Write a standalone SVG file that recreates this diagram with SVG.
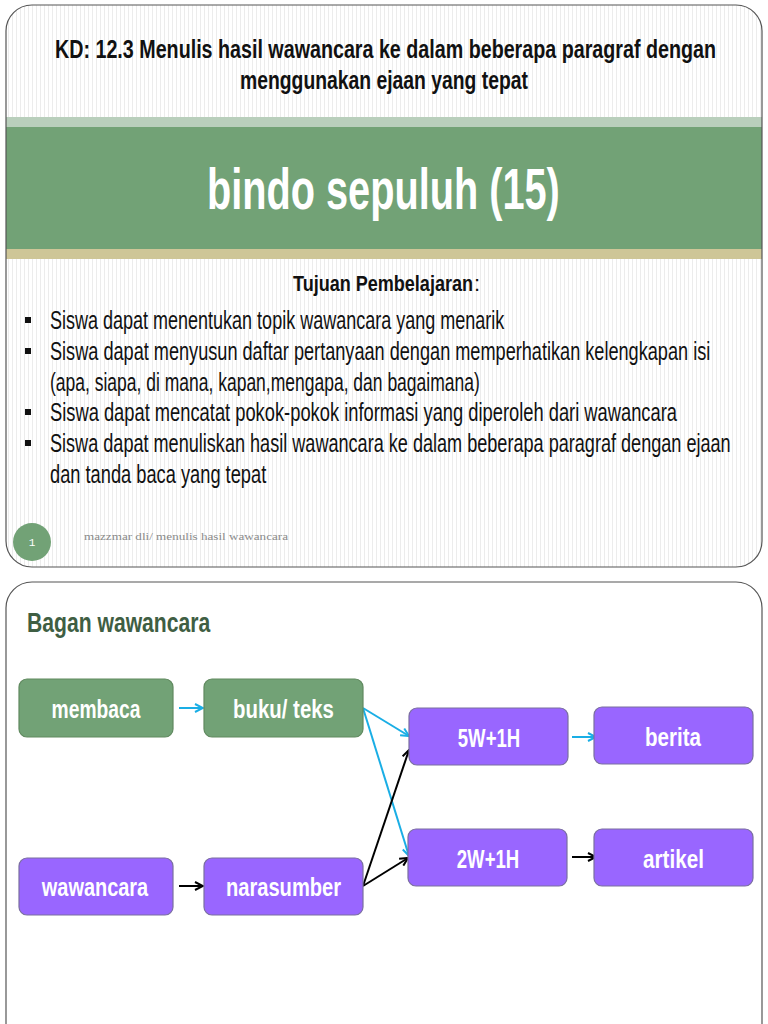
<svg xmlns="http://www.w3.org/2000/svg" width="768" height="1024" viewBox="0 0 768 1024">
<defs>
<pattern id="stripes" width="4" height="10" patternUnits="userSpaceOnUse">
<rect width="4" height="10" fill="#ffffff"/>
<rect x="0" width="1" height="10" fill="#ececec"/>
</pattern>
<clipPath id="s1clip"><rect x="6" y="5" width="756" height="562" rx="26"/></clipPath>
<marker id="arrC" viewBox="0 0 10 10" refX="9" refY="5" markerWidth="10" markerHeight="10" markerUnits="userSpaceOnUse" orient="auto">
<path d="M1,1 L9,5 L1,9" fill="none" stroke="#1aaee5" stroke-width="2"/>
</marker>
<marker id="arrK" viewBox="0 0 10 10" refX="9" refY="5" markerWidth="10" markerHeight="10" markerUnits="userSpaceOnUse" orient="auto">
<path d="M1,1 L9,5 L1,9" fill="none" stroke="#000000" stroke-width="2"/>
</marker>
</defs>
<style>
.kd{font-family:"Liberation Sans","DejaVu Sans",sans-serif;font-weight:bold;font-size:25px;fill:#111}
.big{font-family:"Liberation Sans","DejaVu Sans",sans-serif;font-weight:bold;font-size:58px;fill:#ffffff}
.tj{font-family:"Liberation Sans","DejaVu Sans",sans-serif;font-size:22px;fill:#111}
.bl{font-family:"Liberation Sans","DejaVu Sans",sans-serif;font-size:26px;fill:#111}
.ft{font-family:"Liberation Serif","DejaVu Serif",serif;font-size:11px;fill:#8a8a8a}
.bg{font-family:"Liberation Sans","DejaVu Sans",sans-serif;font-weight:bold;font-size:28px;fill:#3f5e43}
.nt{font-family:"Liberation Sans","DejaVu Sans",sans-serif;font-weight:bold;font-size:26px;fill:#ffffff;text-anchor:middle}
.gn{fill:#72a276;stroke:#60895f;stroke-width:1.2}
.pp{fill:#9966ff;stroke:#7a6f9f;stroke-width:1.2}
.cy{stroke:#1aaee5;stroke-width:2;fill:none;marker-end:url(#arrC)}
.bk{stroke:#000000;stroke-width:2;fill:none;marker-end:url(#arrK)}
</style>
<rect width="768" height="1024" fill="#ffffff"/>

<g id="slide1">
<g clip-path="url(#s1clip)">
<rect x="6" y="5" width="756" height="562" fill="url(#stripes)"/>
<rect x="6" y="117" width="756" height="10" fill="#b9cfbc"/>
<rect x="6" y="127" width="756" height="122" fill="#72a276"/>
<rect x="6" y="249" width="756" height="10" fill="#cec697"/>
</g>
<rect x="6" y="5" width="756" height="562" rx="26" fill="none" stroke="#555" stroke-width="1.2"/>
<text class="kd" transform="translate(55,58) scale(0.72,1)" textLength="918" lengthAdjust="spacingAndGlyphs">KD: 12.3 Menulis hasil wawancara ke dalam beberapa paragraf dengan</text>
<text class="kd" transform="translate(240,89) scale(0.72,1)" textLength="400" lengthAdjust="spacingAndGlyphs">menggunakan ejaan yang tepat</text>
<text class="big" transform="translate(207,209) scale(0.8,1)" textLength="441" lengthAdjust="spacingAndGlyphs">bindo sepuluh (15)</text>
<text class="tj" font-weight="bold" transform="translate(293,291) scale(0.8,1)" textLength="225" lengthAdjust="spacingAndGlyphs">Tujuan Pembelajaran</text>
<text class="tj" x="474" y="291">:</text>
<g fill="#111">
<rect x="25" y="317" width="6" height="6"/>
<rect x="25" y="348" width="6" height="6"/>
<rect x="25" y="409" width="6" height="6"/>
<rect x="25" y="440" width="6" height="6"/>
</g>
<text class="bl" transform="translate(50,329) scale(0.68,1)" textLength="668" lengthAdjust="spacingAndGlyphs">Siswa dapat menentukan topik wawancara yang menarik</text>
<text class="bl" transform="translate(50,360) scale(0.68,1)" textLength="971" lengthAdjust="spacingAndGlyphs">Siswa dapat  menyusun daftar pertanyaan dengan memperhatikan kelengkapan isi</text>
<text class="bl" transform="translate(50,391) scale(0.68,1)" textLength="632" lengthAdjust="spacingAndGlyphs">(apa, siapa, di mana, kapan,mengapa, dan bagaimana)</text>
<text class="bl" transform="translate(50,421) scale(0.68,1)" textLength="922" lengthAdjust="spacingAndGlyphs">Siswa dapat  mencatat pokok-pokok informasi yang diperoleh dari wawancara</text>
<text class="bl" transform="translate(50,452) scale(0.68,1)" textLength="1001" lengthAdjust="spacingAndGlyphs">Siswa dapat  menuliskan hasil wawancara ke dalam beberapa paragraf dengan ejaan</text>
<text class="bl" transform="translate(50,483) scale(0.68,1)" textLength="318" lengthAdjust="spacingAndGlyphs">dan tanda baca yang  tepat</text>
<circle cx="32" cy="542" r="19" fill="#72a276"/>
<text x="32" y="546" font-family="Liberation Mono, monospace" font-size="11" fill="#ffffff" text-anchor="middle">1</text>
<text class="ft" x="84" y="540" textLength="204" lengthAdjust="spacingAndGlyphs">mazzmar dli/ menulis hasil wawancara</text>
</g>

<g id="slide2">
<path d="M6,1030 L6,608 A26,26 0 0 1 32,582 L736,582 A26,26 0 0 1 762,608 L762,1030" fill="#ffffff" stroke="#555" stroke-width="1.2"/>
<text class="bg" transform="translate(27,632) scale(0.8,1)" textLength="229" lengthAdjust="spacingAndGlyphs">Bagan wawancara</text>
</g>

<g id="connectors">
<line class="cy" x1="179" y1="708" x2="203" y2="708"/>
<line class="cy" x1="363" y1="708" x2="409" y2="736"/>
<line class="cy" x1="363" y1="708" x2="409" y2="856"/>
<line class="cy" x1="572" y1="737" x2="596" y2="737"/>
<line class="bk" x1="179" y1="886" x2="203" y2="886"/>
<line class="bk" x1="363" y1="886" x2="409" y2="750"/>
<line class="bk" x1="363" y1="886" x2="408" y2="858"/>
<line class="bk" x1="572" y1="857" x2="596" y2="857"/>
</g>

<g id="node-membaca"><rect class="gn" x="19" y="679" width="154" height="58" rx="8"/><text class="nt" transform="translate(96,718) scale(0.8,1)" textLength="111" lengthAdjust="spacingAndGlyphs">membaca</text></g>
<g id="node-buku"><rect class="gn" x="204" y="679" width="159" height="58" rx="8"/><text class="nt" transform="translate(283.5,718) scale(0.8,1)" textLength="126" lengthAdjust="spacingAndGlyphs">buku/ teks</text></g>
<g id="node-5w1h"><rect class="pp" x="409" y="708" width="159" height="57" rx="8"/><text class="nt" transform="translate(489,747) scale(0.8,1)" textLength="78" lengthAdjust="spacingAndGlyphs">5W+1H</text></g>
<g id="node-berita"><rect class="pp" x="594" y="707" width="159" height="57" rx="8"/><text class="nt" transform="translate(673,746) scale(0.8,1)" textLength="70" lengthAdjust="spacingAndGlyphs">berita</text></g>
<g id="node-2w1h"><rect class="pp" x="408" y="829" width="159" height="57" rx="8"/><text class="nt" transform="translate(488,868) scale(0.8,1)" textLength="78" lengthAdjust="spacingAndGlyphs">2W+1H</text></g>
<g id="node-artikel"><rect class="pp" x="594" y="829" width="159" height="57" rx="8"/><text class="nt" transform="translate(673.5,868) scale(0.8,1)" textLength="76" lengthAdjust="spacingAndGlyphs">artikel</text></g>
<g id="node-wawancara"><rect class="pp" x="19" y="858" width="154" height="57" rx="8"/><text class="nt" transform="translate(95,896) scale(0.8,1)" textLength="133" lengthAdjust="spacingAndGlyphs">wawancara</text></g>
<g id="node-narasumber"><rect class="pp" x="204" y="858" width="159" height="57" rx="8"/><text class="nt" transform="translate(283.5,896) scale(0.8,1)" textLength="144" lengthAdjust="spacingAndGlyphs">narasumber</text></g>
</svg>
